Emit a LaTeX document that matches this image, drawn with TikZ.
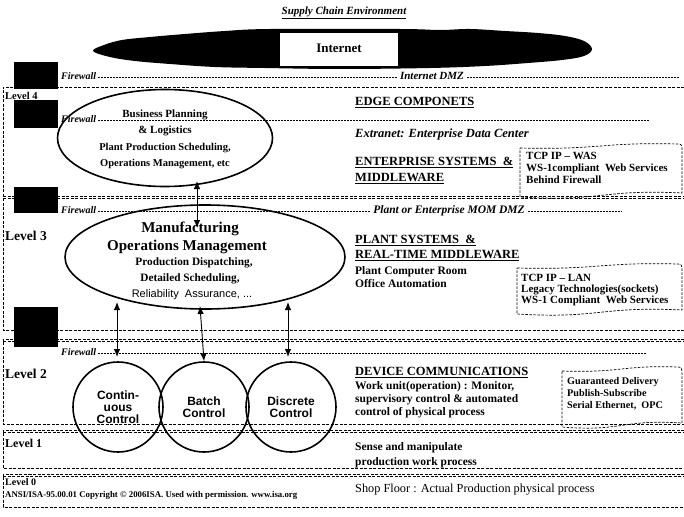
\documentclass[tikz,border=0pt]{standalone}
\usepackage{fontspec}
\setmainfont{Liberation Serif}
\newfontfamily\arialf{Liberation Sans}
\usetikzlibrary{arrows.meta,calc,shapes.geometric}
\newcommand\myfs[1]{\fontsize{#1}{#1}\selectfont}
\newcommand\wavybox[4]{%
  \draw[wbox] (#1,#2+3) .. controls ({(#1+#3)/2},#2+5) and ({(#1+#3)/2},#2-3) .. (#3-4,#2-1)
     .. controls (#3-1,#2-1) .. (#3,#2+3) -- (#3,#4-4)
     .. controls ({(#1+#3)/2},#4-8) and ({(#1+#3)/2},#4+5) .. (#1,#4) -- cycle;}
\begin{document}
\begin{tikzpicture}[x=1pt,y=-1pt,
  txt/.style={inner sep=0pt, text height=7pt, text depth=2pt, anchor=west},
  lvl/.style={txt, font=\bfseries\myfs{10.5}},
  biglvl/.style={txt, font=\bfseries\myfs{13.5}, text height=9pt},
  fw/.style={txt, font=\bfseries\itshape\myfs{10}, inner xsep=2pt},
  dmz/.style={txt, font=\bfseries\itshape\myfs{11.5}, inner xsep=3pt},
  head/.style={txt, font=\bfseries\myfs{12.5}, text height=8.5pt},
  body/.style={txt, font=\bfseries\myfs{11.5}},
  wtxt/.style={txt, font=\bfseries\myfs{11}},
  cbody/.style={txt, anchor=center, font=\bfseries\myfs{10.5}},
  fwline/.style={line width=0.5pt, dash pattern=on 2pt off 1pt},
  boxline/.style={line width=0.7pt, dash pattern=on 3pt off 1.5pt},
  wbox/.style={line width=0.7pt, dash pattern=on 2.5pt off 1.5pt},
  ell/.style={draw, ellipse, line width=1.6pt, inner sep=0pt},
  ctrl/.style={draw, circle, line width=1.6pt, minimum size=90pt, inner sep=0pt,
     align=center, font=\arialf\bfseries\myfs{12}},
  arr/.style={{Latex[length=8pt,width=6.5pt]}-{Latex[length=8pt,width=6.5pt]}, line width=0.9pt}
]
\useasboundingbox (0,0) rectangle (684,516);

% title
\node[inner sep=0pt, font=\bfseries\itshape\myfs{11}] (title) at (344,13) {\underline{Supply Chain Environment}};

% cloud
\fill[black] plot[smooth cycle, tension=0.6] coordinates {
 (93,51) (104,45) (122,40) (150,37) (185,34) (225,31) (270,29) (400,29) (440,30)
 (470,29) (505,31) (538,33) (565,36) (584,41) (592,49) (584,56) (562,60) (528,63) (485,66)
 (430,68) (340,69) (265,68) (215,67) (170,64) (135,61) (110,57)};
\node[fill=white, minimum width=118pt, minimum height=33pt, inner sep=0pt,
  font=\bfseries\myfs{13}] (inet) at (339,50) {\raisebox{3pt}{Internet}};

% level frames
\draw[boxline] (684,87) -- (3,87) -- (3,330) -- (684,330);
\draw[boxline] (684,339) -- (3,339) -- (3,424) -- (684,424);
\draw[boxline] (684,430) -- (3,430) -- (3,468) -- (684,468);
\draw[boxline] (684,474) -- (3,474) -- (3,507) -- (684,507);
\foreach \yy in {196,341.5,432.5,476.5} {
  \draw[boxline] (3,\yy) -- (684,\yy);
}
\draw[boxline] (3,198.5) -- (684,198.5);

% firewall icons
\fill (14,62) rectangle (58,89);
\fill (14,100) rectangle (58,128);
\fill (14,187) rectangle (58,213);
\fill (14,307) rectangle (58,347);

% firewall lines
\node[fw] (fw1) at (59,77) {Firewall};
\node[dmz, anchor=center, font=\bfseries\itshape\myfs{11}] (dmz1) at (432,77) {Internet DMZ};
\draw[fwline] (fw1.east) -- (dmz1.west);
\draw[fwline] (dmz1.east) -- (680,77);

\node[fw] (fw2) at (59,120) {Firewall};
\coordinate (fw2e) at (650,120);
\draw[fwline] (fw2.east) -- (fw2e);

\node[fw] (fw3) at (59,211) {Firewall};
\node[dmz, anchor=center] (dmz3) at (449,211) {Plant or Enterprise MOM DMZ};
\coordinate (fw3e) at (622,211);
\draw[fwline] (fw3.east) -- (dmz3.west);
\draw[fwline] (dmz3.east) -- (fw3e);

\node[fw] (fw4) at (59,353) {Firewall};
\coordinate (fw4e) at (647,353);
\draw[fwline] (fw4.east) -- (fw4e);

% level labels
\node[lvl] (l4) at (5,97) {Level 4};
\node[biglvl] (l3) at (5,237) {Level 3};
\node[biglvl] (l2) at (5,375) {Level 2};
\node[lvl, font=\bfseries\myfs{12}] (l1) at (5,445) {Level 1};
\node[lvl, font=\bfseries\myfs{10}] (l0) at (5,483) {Level 0};
\node[txt, font=\bfseries\myfs{8.8}] (ansi) at (5,495) {ANSI/ISA-95.00.01 Copyright © 2006ISA. Used with permission. www.isa.org};

% right column
\node[head] (edge) at (355,102) {\underline{EDGE COMPONETS}};
\node[dmz, inner xsep=0pt, font=\bfseries\itshape\myfs{12.5}] (extra) at (355,135) {Extranet: Enterprise Data Center};
\node[head] (ent1) at (355,162) {\underline{ENTERPRISE SYSTEMS \ \&}};
\node[head] (ent2) at (355,178) {\underline{MIDDLEWARE}};
\node[head] (pl1) at (355,240) {\underline{PLANT SYSTEMS \ \&}};
\node[head] (pl2) at (355,255) {\underline{REAL-TIME MIDDLEWARE}};
\node[body] (pcr) at (355,272) {Plant Computer Room};
\node[body] (oa) at (355,285) {Office Automation};
\node[head] (dev) at (355,372) {\underline{DEVICE COMMUNICATIONS}};
\node[body] (wu1) at (355,387) {Work unit(operation) : Monitor,};
\node[body] (wu2) at (355,400) {supervisory control \& automated};
\node[body] (wu3) at (355,413) {control of physical process};
\node[body] (sm1) at (355,448) {Sense and manipulate};
\node[body] (sm2) at (355,463) {production work process};
\node[body, font=\myfs{12.3}] (shop) at (355,490) {Shop Floor : Actual Production physical process};

% wavy boxes
\wavybox{520}{145}{682}{197}
\node[wtxt] (w11) at (526,157) {TCP IP -- WAS};
\node[wtxt] (w12) at (526,169) {WS-1compliant \ Web Services};
\node[wtxt] (w13) at (526,181) {Behind Firewall};

\wavybox{517}{265}{682}{314}
\node[wtxt] (w21) at (521,279) {TCP IP -- LAN};
\node[wtxt] (w22) at (521,290) {Legacy Technologies(sockets)};
\node[wtxt] (w23) at (521,301) {WS-1 Compliant \ Web Services};

\wavybox{562}{368}{682}{427}
\node[wtxt, font=\bfseries\myfs{10.2}] (w31) at (567,382) {Guaranteed Delivery};
\node[wtxt, font=\bfseries\myfs{10.2}] (w32) at (567,394) {Publish-Subscribe};
\node[wtxt, font=\bfseries\myfs{10.2}] (w33) at (567,406) {Serial Ethernet, \ OPC};

% ellipse 1
\node[ell, minimum width=215pt, minimum height=97pt] (bp) at (165,138) {};
\node[cbody, font=\bfseries\myfs{11}] (bpt1) at (165,115) {Business Planning};
\node[cbody, font=\bfseries\myfs{11}] (bpt2) at (165,131) {\& Logistics};
\node[cbody] (bpt3) at (165,148) {Plant Production Scheduling,};
\node[cbody] (bpt4) at (165,164) {Operations Management, etc};

% ellipse 2
\node[ell, minimum width=280pt, minimum height=104pt] (mom) at (205,257) {};
\node[cbody, font=\bfseries\myfs{15}, text height=10pt] (mt1) at (190,228) {Manufacturing};
\node[cbody, font=\bfseries\myfs{15}, text height=10pt] (mt2) at (187,246) {Operations Management};
\node[cbody, font=\bfseries\myfs{11.3}] (mt3) at (194,263) {Production Dispatching,};
\node[cbody, font=\bfseries\myfs{11.3}] (mt4) at (190,279) {Detailed Scheduling,};
\node[cbody, font=\arialf\myfs{11}] (mt5) at (192,295) {Reliability \ Assurance, ...};

% control circles
\node[ctrl] (cc) at (118,407) {Contin-\\uous\\Control};
\node[ctrl] (bc) at (204,407) {Batch\\Control};
\node[ctrl] (dc) at (291,407) {Discrete\\Control};

% arrows
\coordinate (a0t) at (197,181);
\coordinate (a0b) at (197,228);
\draw[arr] (a0t) -- (a0b);
\coordinate (a1t) at (117,302);
\coordinate (a1b) at (117,357);
\coordinate (a2t) at (200,306);
\coordinate (a3t) at (288,302);
\coordinate (a3b) at (288,357);
\draw[arr] (a1t) -- (a1b);
\draw[arr] (a2t) -- (bc.north);
\draw[arr] (a3t) -- (a3b);
\end{tikzpicture}
\end{document}
